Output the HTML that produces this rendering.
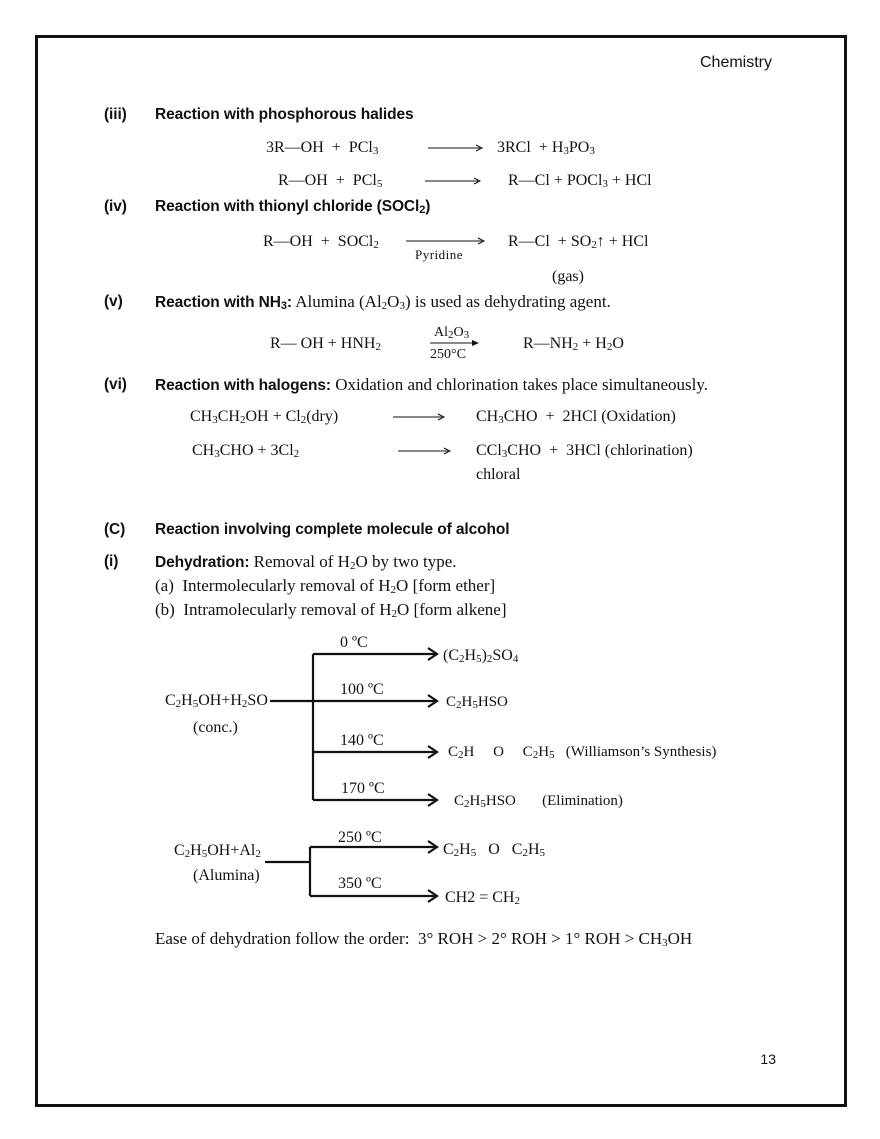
<!DOCTYPE html>
<html><head><meta charset="utf-8"><style>
body{margin:0;width:880px;height:1139px;background:#fff;position:relative;overflow:hidden;font-family:"Liberation Serif",serif;font-size:16px;color:#111}
.t{position:absolute;line-height:20px;white-space:nowrap}
.s{font-family:"Liberation Sans",sans-serif;font-size:16px}
.h{font-family:"Liberation Sans",sans-serif;font-size:15.5px;font-weight:bold;letter-spacing:-0.1px}
.b{font-family:"Liberation Sans",sans-serif;font-size:15.5px;font-weight:bold;letter-spacing:-0.1px}
.p{font-size:17px}
sub{font-size:11px;vertical-align:-2px;line-height:0}
.sm{font-size:15px}
</style></head><body>
<div style="position:absolute;left:35px;top:35px;width:806px;height:1066px;border:3px solid #111"></div>
<svg width="880" height="1139" style="position:absolute;left:0;top:0">
<g stroke="#111" fill="none" stroke-width="1">
<line x1="428" y1="148" x2="480" y2="148"/><path d="M476 145 L482 148 L476 151"/>
<line x1="425" y1="181" x2="478" y2="181"/><path d="M474 178 L480 181 L474 184"/>
<line x1="406" y1="241" x2="482" y2="241"/><path d="M478 238 L484 241 L478 244"/>
<line x1="393" y1="417" x2="442" y2="417"/><path d="M438 414 L444 417 L438 420"/>
<line x1="398" y1="451" x2="448" y2="451"/><path d="M444 448 L450 451 L444 454"/>
</g>
<line x1="430" y1="343" x2="476" y2="343" stroke="#111" stroke-width="1"/><path d="M472 340 L479 343 L472 346Z" fill="#111"/>
<g stroke="#111" fill="none" stroke-width="2.2">
<line x1="313" y1="654" x2="313" y2="800"/>
<line x1="270" y1="701" x2="313" y2="701"/>
<line x1="313" y1="654" x2="436" y2="654"/><path d="M428 648 L437 654 L428 660"/>
<line x1="313" y1="701" x2="436" y2="701"/><path d="M428 695 L437 701 L428 707"/>
<line x1="313" y1="752" x2="436" y2="752"/><path d="M428 746 L437 752 L428 758"/>
<line x1="313" y1="800" x2="436" y2="800"/><path d="M428 794 L437 800 L428 806"/>
<line x1="310" y1="847" x2="310" y2="896"/>
<line x1="265" y1="862" x2="310" y2="862"/>
<line x1="310" y1="847" x2="436" y2="847"/><path d="M428 841 L437 847 L428 853"/>
<line x1="310" y1="896" x2="436" y2="896"/><path d="M428 890 L437 896 L428 902"/>
</g>
</svg>
<div class="t s" style="left:700px;top:53px">Chemistry</div>
<div class="t h" style="left:104px;top:105px">(iii)</div>
<div class="t h" style="left:155px;top:105px">Reaction with phosphorous halides</div>
<div class="t" style="left:266px;top:138px">3R—OH &nbsp;+ &nbsp;PCl<sub>3</sub></div>
<div class="t" style="left:497px;top:138px">3RCl &nbsp;+ H<sub>3</sub>PO<sub>3</sub></div>
<div class="t" style="left:278px;top:171px">R—OH &nbsp;+ &nbsp;PCl<sub>5</sub></div>
<div class="t" style="left:508px;top:171px">R—Cl + POCl<sub>3</sub> + HCl</div>
<div class="t h" style="left:104px;top:197px">(iv)</div>
<div class="t h" style="left:155px;top:197px">Reaction with thionyl chloride (SOCl<sub>2</sub>)</div>
<div class="t" style="left:263px;top:232px">R—OH &nbsp;+ &nbsp;SOCl<sub>2</sub></div>
<div class="t" style="left:415px;top:245px;font-size:13px;letter-spacing:0.5px">Pyridine</div>
<div class="t" style="left:508px;top:232px">R—Cl &nbsp;+ SO<sub>2</sub>↑ + HCl</div>
<div class="t" style="left:552px;top:267px">(gas)</div>
<div class="t h" style="left:104px;top:292px">(v)</div>
<div class="t p" style="left:155px;top:292px"><span class="b">Reaction with NH<sub>3</sub>:</span> Alumina (Al<sub>2</sub>O<sub>3</sub>) is used as dehydrating agent.</div>
<div class="t" style="left:270px;top:334px">R— OH + HNH<sub>2</sub></div>
<div class="t" style="left:434px;top:323px;font-size:14px">Al<sub>2</sub>O<sub>3</sub></div>
<div class="t" style="left:430px;top:345px;font-size:14px">250°C</div>
<div class="t" style="left:523px;top:334px">R—NH<sub>2</sub> + H<sub>2</sub>O</div>
<div class="t h" style="left:104px;top:375px">(vi)</div>
<div class="t p" style="left:155px;top:375px"><span class="b">Reaction with halogens:</span> Oxidation and chlorination takes place simultaneously.</div>
<div class="t" style="left:190px;top:407px">CH<sub>3</sub>CH<sub>2</sub>OH + Cl<sub>2</sub>(dry)</div>
<div class="t" style="left:476px;top:407px">CH<sub>3</sub>CHO &nbsp;+ &nbsp;2HCl (Oxidation)</div>
<div class="t" style="left:192px;top:441px">CH<sub>3</sub>CHO + 3Cl<sub>2</sub></div>
<div class="t" style="left:476px;top:441px">CCl<sub>3</sub>CHO &nbsp;+ &nbsp;3HCl (chlorination)</div>
<div class="t" style="left:476px;top:465px">chloral</div>
<div class="t h" style="left:104px;top:520px">(C)</div>
<div class="t b" style="left:155px;top:520px">Reaction involving complete molecule of alcohol</div>
<div class="t h" style="left:104px;top:552px">(i)</div>
<div class="t p" style="left:155px;top:552px"><span class="b">Dehydration:</span> Removal of H<sub>2</sub>O by two type.</div>
<div class="t p" style="left:155px;top:576px">(a) &nbsp;Intermolecularly removal of H<sub>2</sub>O [form ether]</div>
<div class="t p" style="left:155px;top:600px">(b) &nbsp;Intramolecularly removal of H<sub>2</sub>O [form alkene]</div>
<div class="t" style="left:340px;top:633px">0 ºC</div>
<div class="t" style="left:340px;top:680px">100 ºC</div>
<div class="t" style="left:340px;top:731px">140 ºC</div>
<div class="t" style="left:341px;top:779px">170 ºC</div>
<div class="t" style="left:165px;top:691px">C<sub>2</sub>H<sub>5</sub>OH+H<sub>2</sub>SO</div>
<div class="t" style="left:193px;top:718px">(conc.)</div>
<div class="t" style="left:443px;top:646px">(C<sub>2</sub>H<sub>5</sub>)<sub>2</sub>SO<sub>4</sub></div>
<div class="t sm" style="left:446px;top:692px">C<sub>2</sub>H<sub>5</sub>HSO</div>
<div class="t sm" style="left:448px;top:742px">C<sub>2</sub>H &nbsp; &nbsp; O &nbsp; &nbsp; C<sub>2</sub>H<sub>5</sub> &nbsp; (Williamson’s Synthesis)</div>
<div class="t sm" style="left:454px;top:791px">C<sub>2</sub>H<sub>5</sub>HSO &nbsp; &nbsp; &nbsp; (Elimination)</div>
<div class="t" style="left:338px;top:828px">250 ºC</div>
<div class="t" style="left:338px;top:874px">350 ºC</div>
<div class="t" style="left:174px;top:841px">C<sub>2</sub>H<sub>5</sub>OH+Al<sub>2</sub></div>
<div class="t" style="left:193px;top:866px">(Alumina)</div>
<div class="t" style="left:443px;top:840px">C<sub>2</sub>H<sub>5</sub> &nbsp; O &nbsp; C<sub>2</sub>H<sub>5</sub></div>
<div class="t" style="left:445px;top:888px">CH2 = CH<sub>2</sub></div>
<div class="t p" style="left:155px;top:929px">Ease of dehydration follow the order: &nbsp;3° ROH &gt; 2° ROH &gt; 1° ROH &gt; CH<sub>3</sub>OH</div>
<div class="t s" style="left:700px;top:1049px;width:76px;text-align:right;font-size:14px">13</div>
</body></html>
